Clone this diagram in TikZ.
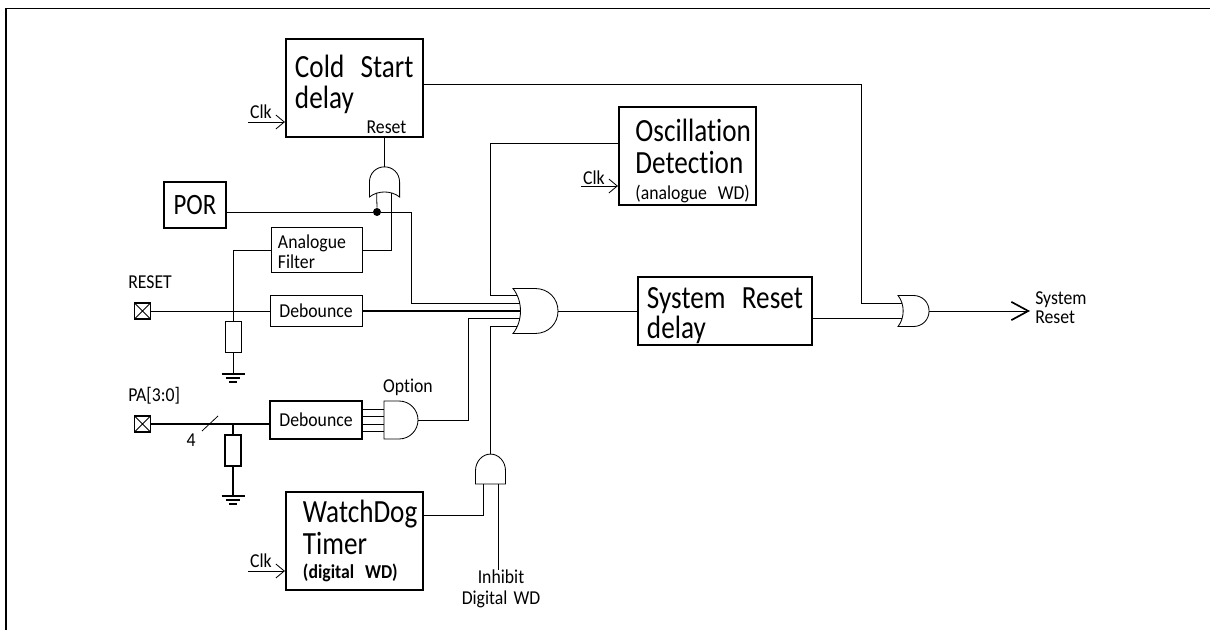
\documentclass[tikz,border=0pt]{standalone}
\usepackage{fontspec}
\usetikzlibrary{arrows.meta}
\setmainfont[FakeStretch=0.9,Ligatures=NoCommon]{Carlito}
\newfontfamily\bigfont[FakeStretch=0.84,Ligatures=NoCommon]{Carlito}
\tikzset{
  wire/.style={line width=0.55pt},
  buswire/.style={line width=1.3pt},
  thinbox/.style={draw,line width=0.6pt,inner sep=0pt,align=left},
  thickbox/.style={draw,line width=1.5pt,inner sep=0pt,align=left},
  bigtext/.style={font=\bigfont\fontsize{23}{22.5}\selectfont},
  midtext/.style={font=\fontsize{14}{14}\selectfont},
  labeltext/.style={inner sep=0pt,font=\fontsize{14}{14}\selectfont},
  clktip/.style={-{Straight Barb[length=6pt,width=10pt,line width=0.6pt]}},
  resistor/.style={draw,inner sep=0pt,minimum width=0.4cm,minimum height=0.77cm},
  padmark/.style={draw,line width=1.3pt,inner sep=0pt,minimum size=0.4cm,
    path picture={\draw[line width=0.55pt]
      (path picture bounding box.north west) -- (path picture bounding box.south east)
      (path picture bounding box.north east) -- (path picture bounding box.south west);}},
  pics/orgate/.style={code={
    \draw[line width=0.6pt] (0,-22.5) .. controls (10,-10) and (10,10) .. (0,22.5)
      -- (22,22.5) .. controls (36,22.5) and (45,12) .. (45,0)
      .. controls (45,-12) and (36,-22.5) .. (22,-22.5) -- cycle;
    \coordinate (-a) at (3.9,-16);
    \coordinate (-b) at (6.8,-8);
    \coordinate (-c) at (7.5,0);
    \coordinate (-d) at (6.8,7);
    \coordinate (-e) at (3.9,15);
    \coordinate (-p) at (6.2,-11.6);
    \coordinate (-q) at (6.4,10.1);
    \coordinate (-out) at (45,0);
  }},
  pics/andgate/.style={code={
    \draw[line width=0.6pt] (0,-19) -- (15,-19)
      .. controls (26,-19) and (34,-10) .. (34,0)
      .. controls (34,10) and (26,19) .. (15,19) -- (0,19) -- cycle;
    \coordinate (-a) at (0,-11);
    \coordinate (-b) at (0,-4);
    \coordinate (-c) at (0,4);
    \coordinate (-d) at (0,11);
    \coordinate (-p) at (0,-9.5);
    \coordinate (-q) at (0,9.5);
    \coordinate (-out) at (34,0);
  }},
  pics/earth/.style={code={
    \draw[line width=1.2pt] (-11.5,0) -- (11.5,0) (-7,4) -- (7,4) (-4,8) -- (4,8);
    \coordinate (-top) at (0,0);
  }},
}
\begin{document}
\begin{tikzpicture}[x=0.025cm,y=-0.025cm]
\useasboundingbox (0,0) rectangle (1210,630);
\draw[line width=1pt] (6,630) -- (6,8.5) -- (1210,8.5);

% boxes
\node[thickbox,bigtext,minimum width=3.425cm,minimum height=2.45cm,text width=2.975cm] (coldbox) at (354.5,88)
  {Cold~\hspace{4pt}Start\\delay\\[-13.5pt]\mbox{}};
\node[thickbox,bigtext,minimum width=1.55cm,minimum height=1.15cm,font=\bigfont\fontsize{21}{22}\selectfont] (porbox) at (195,205) {POR};
\node[thinbox,midtext,minimum width=2.275cm,minimum height=1.125cm,text width=1.925cm] (filterbox) at (316.5,250)
  {Analogue\\Filter\\[-16.8pt]\mbox{}};
\node[thinbox,midtext,minimum width=2.3cm,minimum height=0.775cm] (debouncea) at (316,311) {Debounce};
\node[thickbox,midtext,line width=1.2pt,minimum width=2.3cm,minimum height=0.95cm] (debounceb) at (316,420) {Debounce};
\node[thickbox,bigtext,minimum width=3.425cm,minimum height=2.45cm,text width=2.575cm] (wdbox) at (354.5,541)
  {WatchDog\\Timer\\[-5pt]\rmfamily\fontsize{14}{14}\selectfont\bfseries (digital~WD)};
\node[thickbox,bigtext,minimum width=3.425cm,minimum height=2.45cm,text width=2.6cm] (oscbox) at (687.5,156)
  {Oscillation\\Detection\\[4.4pt]\rmfamily\fontsize{14}{14}\selectfont (analogue~WD)\\[-27.5pt]\mbox{}};
\node[thickbox,bigtext,minimum width=4.35cm,minimum height=1.7cm,text width=3.9cm] (sysbox) at (725,311)
  {System~\hspace{4pt}Reset\\[-1.5pt]delay\\[-25.2pt]\mbox{}};

% pads and resistors
\node[padmark] (resetpad) at (142.5,311) {};
\node[padmark] (papad) at (142.5,424) {};
\node[resistor,line width=0.6pt] (resa) at (233,337) {};
\node[resistor,line width=1.3pt] (resb) at (233,450.5) {};
\pic (eartha) at (233,374) {earth};
\pic (earthb) at (233,496) {earth};

% gates
\pic[rotate=90,scale=0.67] (topgate) at (384.5,197) {orgate};
\pic (mainor) at (513,311) {orgate};
\pic[scale=0.69] (secondor) at (898,311) {orgate};
\pic (optgate) at (384,420) {andgate};
\pic[rotate=90,xscale=0.88,yscale=0.79] (lowgate) at (490.5,484) {andgate};
\node[fill,circle,inner sep=0pt,minimum size=0.2cm] (pordot) at (377,212) {};

% texts
\node[labeltext] (clkcold) at (261,112) {Clk};
\node[labeltext] (clkosc) at (594,178) {Clk};
\node[labeltext] (clkwd) at (261,561) {Clk};
\node[labeltext] (resetin) at (386.5,127) {Reset};
\node[labeltext,anchor=west] (resetname) at (128,282) {RESET};
\node[labeltext,anchor=west] (paname) at (128,396) {PA[3:0]};
\node[labeltext] (buswidth) at (191,440) {4};
\node[labeltext] (optname) at (408,387) {Option};
\node[labeltext,align=center] (inhibit) at (501,589) {Inhibit\\[0.5pt]Digital~\hspace{1.5pt}WD};
\node[labeltext,align=left,anchor=west] (sysreset) at (1035,308) {System\\[-0.5pt]Reset};

% junction points on the wires
\coordinate (coldout) at (coldbox.east |- 0,84);
\coordinate (coldturn) at (861,84);
\coordinate (coldreset) at (384.5,137);
\coordinate (porout) at (porbox.east |- 0,212);
\coordinate (porturn) at (411,212);
\coordinate (reswire) at (233,311);
\coordinate (oscout) at (oscbox.west |- 0,143);
\coordinate (oscturn) at (490,143);
\coordinate (optturn) at (468,420);
\coordinate (wdout) at (wdbox.east |- 0,515);
\coordinate (sysout) at (sysbox.east |- 0,318);
\coordinate (sysend) at (1030,311);
\coordinate (busa) at (452,311);
\coordinate (busb) at (498,311);
\coordinate (clka) at (248,122);
\coordinate (clkb) at (581,186);
\coordinate (clkc) at (248,571);
\coordinate (pabus) at (233,424);

% wires
\draw[wire,clktip] (clka) -- (clka -| coldbox.west);
\draw[wire,clktip] (clkb) -- (clkb -| oscbox.west);
\draw[wire,clktip] (clkc) -- (clkc -| wdbox.west);
\draw[wire] (coldreset) -- (topgate-out);
\draw[wire] (coldout) -- (coldturn) |- (secondor-p);
\draw[wire] (porout) -- (pordot) -- (porturn) |- (mainor-b);
\draw[wire] (pordot) -- (topgate-p);
\draw[wire] (filterbox.east) -| (topgate-q);
\draw[wire] (filterbox.west) -| (reswire);
\draw[wire] (resetpad) -- (debouncea.west);
\draw[wire] (reswire) -- (resa.north);
\draw[wire] (resa.south) -- (eartha-top);
\draw[wire,line width=0.8pt] (debouncea.east) -- (mainor-c);
\draw[buswire] (busa) -- (busb);
\draw[buswire] (papad) -- (debounceb.west |- papad);
\draw[buswire] (pabus) -- (resb.north);
\draw[buswire] (resb.south) -- (earthb-top);
\draw[wire] (202,431) -- (218,416);
\draw[wire] (debounceb.east |- optgate-a) -- (optgate-a);
\draw[wire] (debounceb.east |- optgate-b) -- (optgate-b);
\draw[wire] (debounceb.east |- optgate-c) -- (optgate-c);
\draw[wire] (debounceb.east |- optgate-d) -- (optgate-d);
\draw[wire] (optgate-out) -- (optturn) |- (mainor-d);
\draw[wire] (oscout) -- (oscturn) |- (mainor-a);
\draw[wire] (lowgate-out) |- (mainor-e);
\draw[wire] (wdout) -| (lowgate-p);
\draw[wire] (lowgate-q) -- (lowgate-q |- inhibit.north);
\draw[wire] (mainor-out) -- (sysbox.west);
\draw[wire] (sysout) -- (sysout -| secondor-q);
\draw[wire,-{Straight Barb[length=12pt,width=13pt,line width=1.2pt]}] (secondor-out) -- (sysend);
\end{tikzpicture}
\end{document}
